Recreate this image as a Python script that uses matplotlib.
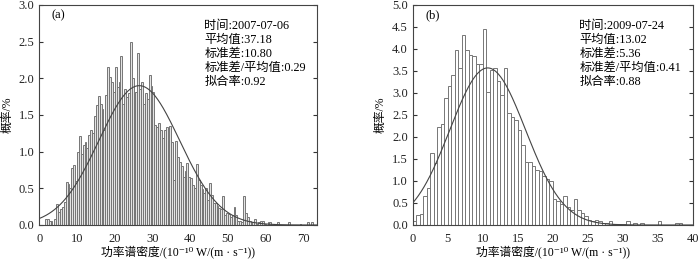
import numpy as np
import matplotlib
matplotlib.use('Agg')
import matplotlib.pyplot as plt

plt.rcParams['font.family'] = ['Liberation Serif', 'Noto Sans CJK SC', 'DejaVu Serif']

# bin width of both histograms (10^-10 W/(m·s^-1))
bin_width = 0.5

# panel (a): 2007-07-06, probability (%) per bin starting at 0
prob_a = [0.00, 0.00, 0.00, 0.08, 0.08, 0.05, 0.05, 0.00, 0.08, 0.28,
          0.18, 0.22, 0.24, 0.32, 0.58, 0.56, 0.50, 0.78, 0.82, 0.60,
          1.00, 1.22, 0.97, 1.09, 1.13, 1.05, 1.23, 1.30, 1.25, 1.48,
          1.64, 1.76, 1.65, 1.58, 1.30, 1.77, 2.15, 2.02, 1.95, 1.82,
          2.16, 1.88, 1.95, 2.31, 1.65, 1.86, 1.75, 1.80, 2.50, 2.00,
          1.82, 1.82, 2.34, 1.86, 1.95, 1.65, 1.80, 1.72, 2.05, 1.90,
          1.82, 1.36, 1.34, 1.39, 1.30, 1.18, 1.30, 1.34, 1.16, 1.35,
          1.13, 0.62, 1.14, 0.93, 0.86, 0.80, 0.66, 0.73, 0.84, 0.66,
          0.64, 0.55, 0.50, 0.83, 0.61, 0.55, 0.49, 0.43, 0.50, 0.34,
          0.57, 0.41, 0.30, 0.30, 0.26, 0.23, 0.22, 0.40, 0.14, 0.17,
          0.15, 0.11, 0.14, 0.24, 0.14, 0.06, 0.06, 0.04, 0.40, 0.16,
          0.11, 0.05, 0.02, 0.04, 0.08, 0.02, 0.04, 0.05, 0.05, 0.02,
          0.00, 0.04, 0.04, 0.00, 0.00, 0.00, 0.04, 0.00, 0.00, 0.00,
          0.00, 0.00, 0.04, 0.00, 0.00, 0.00, 0.00, 0.00, 0.02, 0.00,
          0.00, 0.00, 0.04, 0.00, 0.04, 0.00]

# panel (b): 2009-07-24
prob_b = [0.08, 0.22, 0.25, 0.67, 0.83, 1.63, 1.40, 2.23, 2.30, 2.88,
          3.15, 3.40, 3.98, 3.57, 4.32, 3.98, 3.87, 3.84, 3.65, 3.65,
          4.45, 3.03, 3.52, 3.57, 3.28, 2.95, 3.57, 2.55, 2.45, 2.38,
          2.15, 1.82, 1.43, 1.43, 1.33, 1.25, 1.22, 1.12, 1.05, 1.00,
          0.60, 0.55, 0.48, 0.65, 0.40, 0.35, 0.60, 0.35, 0.28, 0.20,
          0.12, 0.10, 0.12, 0.10, 0.05, 0.05, 0.10, 0.03, 0.03, 0.03,
          0.03, 0.10, 0.00, 0.05, 0.00, 0.05, 0.00, 0.00, 0.00, 0.00,
          0.08, 0.00, 0.00, 0.00, 0.00, 0.05, 0.05]

# fitted normal curves: amplitude (%), centre, sigma
fit_a = (1.90, 26.5, 10.7)
fit_b = (3.57, 10.7, 5.4)

info_a = ['时间:2007-07-06', '平均值:37.18', '标准差:10.80',
          '标准差/平均值:0.29', '拟合率:0.92']
info_b = ['时间:2009-07-24', '平均值:13.02', '标准差:5.36',
          '标准差/平均值:0.41', '拟合率:0.88']

xlabel = '功率谱密度/(10⁻¹⁰ W/(m · s⁻¹))'


def draw_panel(ax, prob, fit, info, tag, xmax, ymax, xticks, yticks, face):
    lefts = np.arange(len(prob)) * bin_width
    ax.bar(lefts, prob, width=bin_width, align='edge', facecolor=face,
           edgecolor='#767676', linewidth=0.7)
    amp, mu, sig = fit
    xs = np.linspace(0, xmax, 400)
    ax.plot(xs, amp * np.exp(-(xs - mu) ** 2 / (2 * sig ** 2)),
            color='#444444', lw=0.8)
    ax.set_xlim(0, xmax)
    ax.set_ylim(0, ymax)
    ax.set_xticks(xticks)
    ax.set_yticks(yticks)
    ax.set_yticklabels(['%.1f' % v for v in yticks])
    ax.tick_params(axis='y', direction='in', length=3, right=True,
                   labelsize=9, colors='#333333', labelcolor='#222222')
    ax.tick_params(axis='x', direction='in', length=0, labelsize=9,
                   pad=6, labelcolor='#222222')
    for s in ax.spines.values():
        s.set_color('#444444')
        s.set_linewidth(0.8)
    ax.set_ylabel('概率/%', fontsize=8.5, labelpad=4)
    ax.set_xlabel(xlabel, fontsize=8.5, labelpad=1)
    ax.text(0.045, 0.955, tag, transform=ax.transAxes, fontsize=9,
            ha='left', va='center')
    for k, line in enumerate(info):
        ax.text(0.595, 0.905 - k * 0.0636, line, transform=ax.transAxes,
                fontsize=8.8, ha='left', va='center')


fig = plt.figure(figsize=(7.0, 2.63), dpi=100)
ax1 = fig.add_axes([0.0561, 0.1445, 0.3967, 0.8365])
ax2 = fig.add_axes([0.5896, 0.1445, 0.4004, 0.8365])

draw_panel(ax1, prob_a, fit_a, info_a, '(a)', 73.6, 3.0,
           np.arange(0, 71, 10), np.arange(0, 3.01, 0.5), '#e4e4e4')
draw_panel(ax2, prob_b, fit_b, info_b, '(b)', 40, 5.0,
           np.arange(0, 41, 5), np.arange(0, 5.01, 0.5), 'white')

plt.savefig('out.png', dpi=100)
